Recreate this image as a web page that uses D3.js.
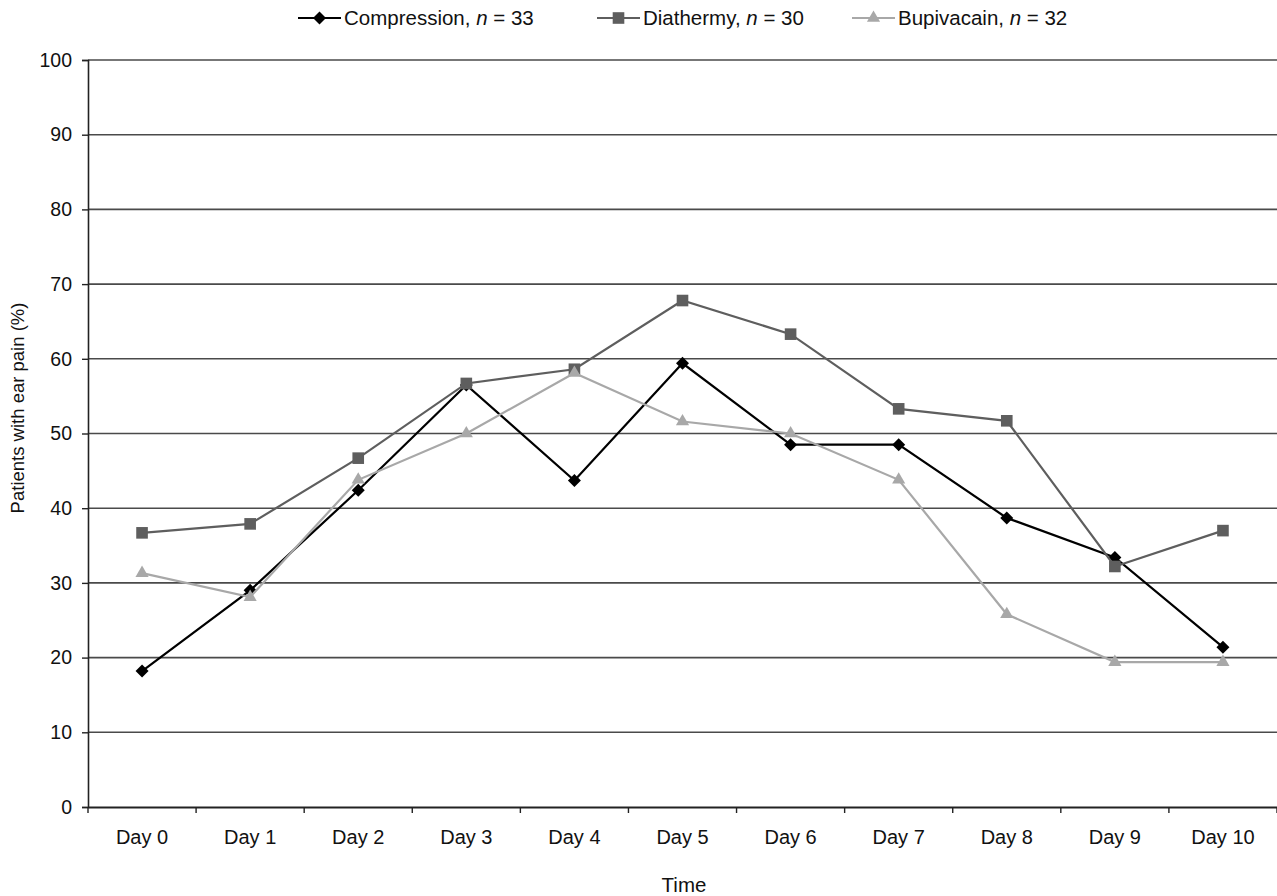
<!DOCTYPE html>
<html><head><meta charset="utf-8">
<script src="https://cdn.jsdelivr.net/npm/d3@7"></script>
<style>body{margin:0;background:#fff}svg{display:block}text{font-family:"Liberation Sans",Arial,sans-serif}</style>
</head><body>
<svg id="c" width="1277" height="896"></svg>
<script>
const categories = ["Day 0","Day 1","Day 2","Day 3","Day 4","Day 5","Day 6","Day 7","Day 8","Day 9","Day 10"];
const compression = [18.2, 29.0, 42.4, 56.5, 43.7, 59.4, 48.5, 48.5, 38.7, 33.4, 21.4];
const diathermy   = [36.7, 37.9, 46.7, 56.7, 58.6, 67.8, 63.3, 53.3, 51.7, 32.2, 37.0];
const bupivacain  = [31.3, 28.1, 43.8, 50.0, 58.1, 51.6, 50.0, 43.8, 25.8, 19.4, 19.4];
const yTicks = [0,10,20,30,40,50,60,70,80,90,100];
const seriesNames = ["Compression","Diathermy","Bupivacain"];
const seriesN = [33,30,32];

const svg = d3.select("#c");
const L = 88, R = 1277, T = 60, B = 807;
const x = d3.scaleBand().domain(categories).range([L, R]);
const y = d3.scaleLinear().domain([0,100]).range([B, T]);

// gridlines
svg.append("g").selectAll("line").data(yTicks.filter(d=>d>0)).join("line")
  .attr("x1", L).attr("x2", R).attr("y1", d=>y(d)).attr("y2", d=>y(d))
  .attr("stroke", "#4a4a4a").attr("stroke-width", 1.6);

// y axis
const ya = svg.append("g").attr("transform", `translate(${L},0)`)
  .call(d3.axisLeft(y).tickValues(yTicks).tickSize(6).tickPadding(10).tickFormat(d3.format("d")));
ya.select(".domain").attr("stroke","#222").attr("stroke-width",1.6);
ya.selectAll(".tick line").attr("stroke","#222").attr("stroke-width",1.4);
ya.selectAll("text").attr("font-size",19.5).attr("fill","#111").attr("font-family","Liberation Sans, Arial, sans-serif");

// x axis
const xa = svg.append("g").attr("transform", `translate(0,${B})`)
  .call(d3.axisBottom(x).tickSize(0).tickPadding(23));
xa.select(".domain").attr("stroke","#222").attr("stroke-width",1.8);
xa.selectAll("text").attr("font-size",20).attr("fill","#111").attr("font-family","Liberation Sans, Arial, sans-serif");
// boundary ticks
const bounds = d3.range(0, categories.length+1).map(i => L + i*x.step());
svg.append("g").selectAll("line").data(bounds).join("line")
  .attr("x1", d=>d).attr("x2", d=>d).attr("y1", B).attr("y2", B+6)
  .attr("stroke","#222").attr("stroke-width",1.4);

// axis titles
svg.append("text").attr("x", 684).attr("y", 892).attr("text-anchor","middle")
  .attr("font-size",20.5).attr("fill","#111").text("Time");
svg.append("text").attr("transform", `translate(24,408) rotate(-90)`)
  .attr("text-anchor","middle").attr("font-size",18.5).attr("fill","#111").text("Patients with ear pain (%)");

const cx = d => x(d) + x.bandwidth()/2;
const data = [compression, diathermy, bupivacain];
const colors = ["#000000", "#5e5e5e", "#a8a8a8"];
const symbols = [d3.symbolDiamond, d3.symbolSquare, d3.symbolTriangle];
const sizes = [70, 135, 75];

function marker(g, i, px, py) {
  if (i === 0) {
    const s = 6.5;
    g.append("path").attr("d", `M${px},${py-s}L${px+s},${py}L${px},${py+s}L${px-s},${py}Z`).attr("fill", colors[i]);
  } else {
    g.append("path").attr("d", d3.symbol(symbols[i], sizes[i])()).attr("transform", `translate(${px},${py})`).attr("fill", colors[i]);
  }
}

const line = d3.line().x((d,i)=>cx(categories[i])).y(d=>y(d));
data.forEach((vals, i) => {
  const g = svg.append("g");
  g.append("path").datum(vals).attr("d", line).attr("fill","none")
    .attr("stroke", colors[i]).attr("stroke-width", 2.2);
  vals.forEach((v, j) => marker(g, i, cx(categories[j]), y(v)));
});

// legend
const legX = [298, 597, 852];
seriesNames.forEach((name, i) => {
  const g = svg.append("g");
  const lx = legX[i], ly = 18;
  g.append("line").attr("x1", lx).attr("x2", lx+43).attr("y1", ly).attr("y2", ly)
    .attr("stroke", colors[i]).attr("stroke-width", 2.2);
  marker(g, i, lx+21.5, ly);
  const t = g.append("text").attr("x", lx+46).attr("y", ly+7).attr("font-size",20.5).attr("fill","#111");
  t.append("tspan").text(name + ", ");
  t.append("tspan").attr("font-style","italic").text("n");
  t.append("tspan").text(" = " + seriesN[i]);
});
</script>
</body></html>
